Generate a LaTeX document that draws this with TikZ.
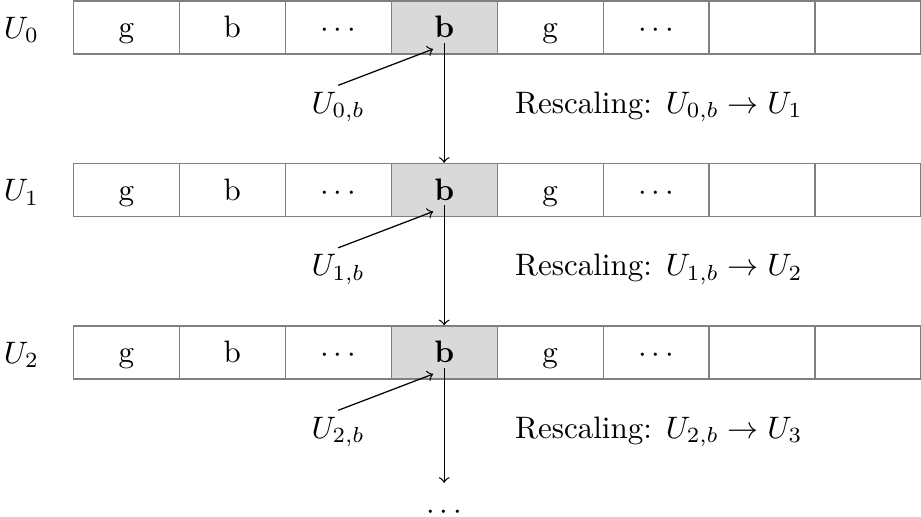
\documentclass[tikz,border=0pt]{standalone}
\usetikzlibrary{positioning}

\tikzset{
  cell/.style={draw=gray,minimum width=1.2cm,minimum height=0.6cm,inner sep=0pt,
    text height=6.5pt,text depth=0pt},
  badcell/.style={cell,fill=gray!30},
}

\begin{document}
\begin{tikzpicture}[>=to]
\useasboundingbox (0,0) rectangle (10.43,-5.853);
% one row of the array for each level
\foreach \r/\y in {0/-0.311,1/-2.151,2/-3.991}{
  \pgfmathtruncatemacro\nx{\r+1}
  \node[anchor=base west] (U\r) at (-0.08,\y-0.12) {$U_\r$};
  \foreach \t/\k in {g/0,b/1,$\cdots$/2,g/4,$\cdots$/5,/6,/7}
    \node[cell] (c\r\k) at ({1.43+1.2*\k},\y) {\t};
  \node[badcell] (c\r3) at (5.03,\y) {\textbf{b}};
  \node[anchor=base] (L\r) at (3.83,\y-0.97) {$U_{\r,b}$};
  \node[anchor=base west] (R\r) at (5.71,\y-0.97) {Rescaling: $U_{\r,b}\to U_{\nx}$};
  \draw[->] ([yshift=-0.05cm]L\r.north) -- ([shift={(-0.125,-0.245)}]c\r3.center);
}
\coordinate (end) at (5.03,-5.468);
\node[below=0.22cm of end,inner sep=1pt] (dots) {$\cdots$};
\draw[->] ([yshift=-0.175cm]c03.center) -- (c13.north);
\draw[->] ([yshift=-0.175cm]c13.center) -- (c23.north);
\draw[->] ([yshift=-0.175cm]c23.center) -- (end);
\end{tikzpicture}
\end{document}
